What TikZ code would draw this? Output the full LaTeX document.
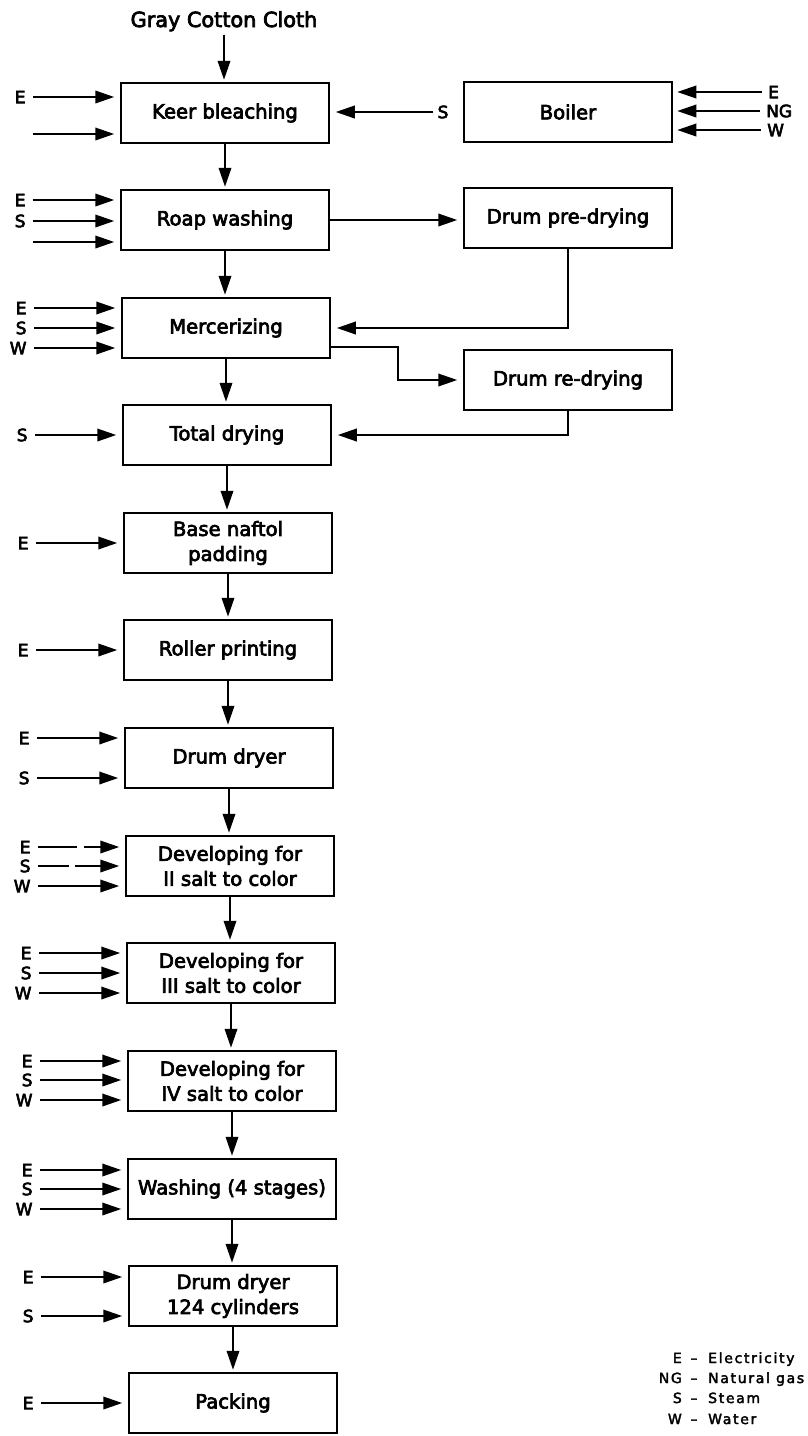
\documentclass[tikz,border=0pt]{standalone}
\usepackage{fontspec}
\setmainfont{DejaVu Sans}[FakeBold=3.5]
\newfontfamily\legendfont{DejaVu Sans}[LetterSpace=12,FakeBold=2.5]
\usetikzlibrary{arrows.meta,calc}
\begin{document}
\begin{tikzpicture}[x=1pt,y=-1pt,
  stage/.style={draw, line width=2.5pt, minimum width=208pt, minimum height=60pt,
    inner sep=0pt, align=center, font=\fontsize{19.6}{25}\selectfont},
  flow/.style={line width=2pt, -{Triangle[length=19pt,width=12.5pt]}, shorten >=2pt},
  feed/.style={flow, shorten <=7pt, shorten >=5.5pt},
  tag/.style={inner sep=0pt, font=\fontsize{17}{18}\selectfont},
  legend/.style={inner sep=0pt, font=\legendfont\fontsize{14}{18}\selectfont}]

\useasboundingbox (0,0) rectangle (808,1436);

% process chain
\node[anchor=base, inner sep=0pt, font=\fontsize{20.8}{25}\selectfont] (cloth) at (224,27) {Gray Cotton Cloth};
\node[stage] (keer)   at (225,113)  {Keer bleaching};
\node[stage] (roap)   at (225,220)  {Roap washing};
\node[stage] (merc)   at (226,328)  {Mercerizing};
\node[stage] (total)  at (227,435)  {Total drying};
\node[stage] (base)   at (228,543)  {Base naftol\\padding};
\node[stage] (roller) at (228,650)  {Roller printing};
\node[stage] (dryer)  at (229,758)  {Drum dryer};
\node[stage] (dev2)   at (230,866)  {Developing for\\II salt to color};
\node[stage] (dev3)   at (231,973)  {Developing for\\III salt to color};
\node[stage] (dev4)   at (232,1081) {Developing for\\IV salt to color};
\node[stage] (wash)   at (232,1189) {Washing (4 stages)};
\node[stage] (cyl)    at (233,1296) {Drum dryer\\124 cylinders};
\node[stage] (pack)   at (233,1403) {Packing};

% side units
\node[stage] (boiler) at (568,112) {Boiler};
\node[stage] (pre)    at (568,218) {Drum pre-drying};
\node[stage] (redry)  at (568,380) {Drum re-drying};

% main flow
\draw[flow, shorten <=3pt] (cloth.south) -- (cloth.south |- keer.north);
\foreach \a/\b in {keer/roap, roap/merc, merc/total, total/base, base/roller,
                   roller/dryer, dryer/dev2, dev2/dev3, dev3/dev4, dev4/wash,
                   wash/cyl, cyl/pack}
  \draw[flow] (\a.south) -- (\a.south |- \b.north);

% utility feeds on the left
\foreach \b/\dy/\l [count=\i] in {keer/-16/E, keer/21/{},
    roap/-20/E, roap/1/S, roap/22/{},
    merc/-20/E, merc/0/S, merc/20/W,
    total/0/S, base/0/E, roller/0/E,
    dryer/-20/E, dryer/20/S,
    dev2/20/W,
    dev3/-20/E, dev3/0/S, dev3/20/W,
    dev4/-20/E, dev4/-1/S, dev4/19/W,
    wash/-19/E, wash/0/S, wash/20/W,
    cyl/-19/E, cyl/20/S,
    pack/0/E}
{
  \node[tag, anchor=east] (in\i) at ($(\b.west)+(-94,\dy)$) {\l};
  \draw[feed] (in\i.east) -- (in\i.east -| \b.west);
}
\node[tag, anchor=east] (d2E) at ($(dev2.west)+(-94,-19)$) {E};
\node[tag, anchor=east] (d2S) at ($(dev2.west)+(-94,0)$) {S};
\draw[feed, dash pattern=on 39pt off 7pt on 300pt off 0pt] (d2E.east) -- (d2E.east -| dev2.west);
\draw[feed, dash pattern=on 31pt off 6pt on 300pt off 0pt] (d2S.east) -- (d2S.east -| dev2.west);

% boiler
\node[tag] (steam) at (443,112) {S};
\draw[flow, shorten <=4pt, shorten >=5.5pt] (steam.west) -- (steam.west -| keer.east);
\node[tag, anchor=west] (bE)  at (768,92)  {E};
\node[tag, anchor=west] (bNG) at (766,111) {NG};
\node[tag, anchor=west] (bW)  at (767,130) {W};
\foreach \n in {bE,bNG,bW}
  \draw[flow, shorten <=6pt, shorten >=4pt] (\n.west) -- (\n.west -| boiler.east);

% drying loops
\draw[flow, shorten >=5.5pt] (roap.east) -- (roap.east -| pre.west);
\draw[flow, shorten >=5.5pt] (pre.south) |- (merc.east);
\coordinate (mercout) at ($(merc.east)+(0,19)$);
\draw[flow, shorten >=5.5pt] (mercout) -- ++(67,0) |- (redry.west);
\draw[flow, shorten >=5.5pt] (redry.south) |- (total.east);

% key
\foreach \k/\t/\yy [count=\i] in {E/Electricity/1363, NG/Natural gas/1383,
                                  S/Steam/1403, W/Water/1424}
{
  \node[legend, anchor=base east] (key\i) at (682,\yy) {\k};
  \node[legend, anchor=base] (dash\i) at (694,\yy) {–};
  \node[legend, anchor=base west] (def\i) at (708,\yy) {\t};
}
\end{tikzpicture}
\end{document}
